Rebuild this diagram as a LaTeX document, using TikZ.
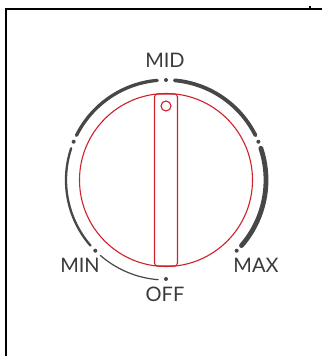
\documentclass[tikz,border=0pt]{standalone}
\usepackage{fontspec}
\setmainfont{Lato}
\definecolor{dialgray}{HTML}{474747}
\definecolor{labelgray}{HTML}{3A3A3A}
\definecolor{knobred}{HTML}{D0202A}
\tikzset{
  label text/.style={font=\fontsize{20}{20}\selectfont, text=labelgray, inner sep=0pt, anchor=base},
  tickdot/.style={circle, fill=dialgray, inner sep=0pt, minimum size=4pt},
  dialarc/.style={draw=dialgray, line cap=round},
  knob/.style={draw=knobred, line width=1.1pt},
  frameline/.style={draw=black, line width=2pt}
}
\begin{document}
\begin{tikzpicture}[x=1pt,y=1pt]
\useasboundingbox (0,0) rectangle (326,356);
% frame
\draw[frameline] (5.5,0) -- (5.5,347) -- (322,347);
\fill (308.5,348) rectangle (310.5,350);
% centre
\coordinate (c) at (166,176);
% tick dots
\node[tickdot] (dmid) at ([shift={(90:100)}]c) {};
\node[tickdot] (dul)  at ([shift={(157.5:100)}]c) {};
\node[tickdot] (dur)  at ([shift={(22.5:100)}]c) {};
\node[tickdot] (dmin) at ([shift={(225:100)}]c) {};
\node[tickdot] (dmax) at ([shift={(315:100)}]c) {};
\node[tickdot] (doff) at ([shift={(270:99)}]c) {};
% arcs
\draw[dialarc, line width=1.2pt] ([shift={(229:100)}]c) arc[start angle=229, end angle=265.5, radius=100];
\draw[dialarc, line width=2.3pt] ([shift={(161.5:100)}]c) arc[start angle=161.5, end angle=221, radius=100];
\draw[dialarc, line width=3.3pt] ([shift={(95:100)}]c) arc[start angle=95, end angle=153.5, radius=100];
\draw[dialarc, line width=3.8pt] ([shift={(26.5:100)}]c) arc[start angle=26.5, end angle=85, radius=100];
\draw[dialarc, line width=4.8pt] ([shift={(-41:100)}]c) arc[start angle=-41, end angle=18.5, radius=100];
% knob
\draw[knob] (c) circle[radius=86.5];
\draw[knob, rounded corners=3pt] (154.5,90) rectangle (177.5,262);
\draw[knob] (166,250) circle[radius=5];
% labels
\node[label text] (lmid) at (165,288) {MID};
\node[label text] (lmin) at (80,83) {MIN};
\node[label text] (lmax) at (256,83) {MAX};
\node[label text] (loff) at (165,54) {OFF};
\end{tikzpicture}
\end{document}
